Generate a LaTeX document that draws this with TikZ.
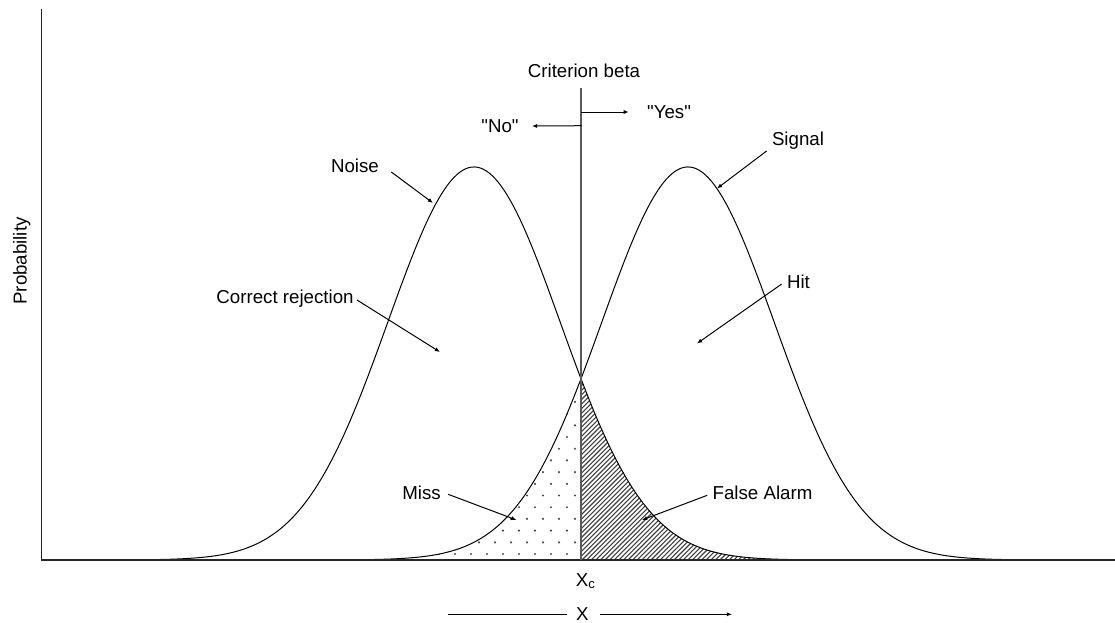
\documentclass[tikz,border=0pt]{standalone}
\usepackage{fontspec}
\setmainfont{Liberation Sans}[Ligatures=TeXOff]
\usetikzlibrary{arrows.meta,calc}
\begin{document}
\begin{tikzpicture}[x=0.5pt,y=-0.5pt,
  lbl/.style={inner sep=0pt, text height=6.69pt, text depth=0pt, font=\fontsize{9.35}{11}\selectfont},
  arr/.style={-{Latex[length=2.6pt,width=2.1pt]}, line width=0.5pt},
  plain/.style={line width=0.5pt},
  curve/.style={line width=0.5pt, line join=round},
  axisline/.style={line width=0.55pt, black!85},
  critline/.style={line width=0.65pt, black!65},
  hatchline/.style={line width=0.55pt, black!75},
  dotfill/.style={fill=black!70},
]
\useasboundingbox (0,0) rectangle (1115,622);

% --- dotted region (Miss): under signal curve, left of criterion
\begin{scope}
  \clip plot[domain=355:581,samples=80] (\x,{560-393*exp(-0.5*((\x-688)/86)^2)}) -- (581,560) -- cycle;
  \foreach \r in {0,...,16} {
    \foreach \c in {0,...,15} {
      \fill[dotfill] ({583-\c*16-mod(\r,2)*8},{554-\r*11.7}) circle (0.6pt);
    }
  }
\end{scope}

% --- hatched region (False Alarm): under noise curve, right of criterion
\begin{scope}
  \clip (581,560) -- plot[domain=581:805,samples=80] (\x,{560-393*exp(-0.5*((\x-474)/86)^2)}) -- (805,560) -- cycle;
  \foreach \i in {0,...,90} {
    \draw[hatchline] ({396+\i*4.6},562) -- ++(210,-210);
  }
\end{scope}

% --- curves
\draw[curve] plot[domain=140:800,samples=220] (\x,{560-393*exp(-0.5*((\x-474)/86)^2)});
\draw[curve] plot[domain=362:1022,samples=220] (\x,{560-393*exp(-0.5*((\x-688)/86)^2)});

% --- axes
\coordinate (ytop) at (41.5,9);
\coordinate (orig) at (41.5,560);
\coordinate (xend) at (1115,560);
\draw[axisline] (ytop) -- (orig) -- (xend);

% --- criterion
\node[lbl] (crit) at (584,71) {Criterion beta};
\coordinate (ctop) at (581,88);
\coordinate (cbot) at (581,560);
\draw[critline] (ctop) -- (cbot);
\coordinate (cyes) at (581,112);
\coordinate (cno) at (581.5,125.7);
\node[lbl] (yes) at (669,112) {"Yes"};
\node[lbl] (no) at (500,126) {"No"};
\draw[arr] (cyes) -- ($(yes.west)+(-18,0)$);
\draw[arr] (cno) -- ($(no.east)+(13,0)$);

% --- labels with arrows
\node[lbl] (noise) at (355,166) {Noise};
\coordinate (noiseT) at (433,203);
\draw[arr] ($(noise.east)+(12,6)$) -- (noiseT);

\node[lbl] (signal) at (798,139) {Signal};
\coordinate (signalT) at (717,188.5);
\draw[arr] ($(signal.west)+(-5,12)$) -- (signalT);

\node[lbl] (cr) at (285,297) {Correct rejection};
\coordinate (crT) at (440,352);
\draw[arr] ($(cr.east)+(3,3)$) -- (crT);

\node[lbl] (hit) at (798.5,282) {Hit};
\coordinate (hitT) at (697,343.5);
\draw[arr] ($(hit.west)+(-5,2)$) -- (hitT);

\node[lbl] (miss) at (421.5,493.3) {Miss};
\coordinate (missT) at (516.5,520);
\draw[arr] ($(miss.east)+(7,1)$) -- (missT);

\node[lbl] (fa) at (762.5,493.3) {False Alarm};
\coordinate (faT) at (642,520);
\draw[arr] ($(fa.west)+(-5,2)$) -- (faT);

% --- axis labels
\node[lbl] (xc) at (586,580) {X\textsubscript{c}};
\node[lbl] (xlab) at (582.3,614.3) {X};
\coordinate (xl) at (448.3,614.3);
\coordinate (xr) at (732,614.3);
\draw[plain] (xl) -- ($(xlab.west)+(-9,0)$);
\draw[arr] ($(xlab.east)+(11.5,0)$) -- (xr);
\node[lbl, rotate=90] (prob) at (20,261) {Probability};
\end{tikzpicture}
\end{document}
